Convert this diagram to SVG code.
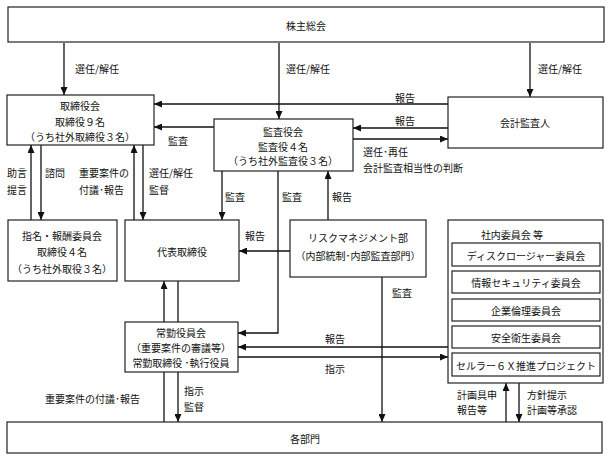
<svg xmlns="http://www.w3.org/2000/svg" width="612" height="459" viewBox="0 0 612 459">
<defs>
<marker id="ah" markerWidth="8" markerHeight="7" refX="8" refY="3.5" orient="auto" markerUnits="userSpaceOnUse">
<path d="M0,0 L8,3.5 L0,7 z" fill="#111"/>
</marker>
<style>
.box{fill:#fff;stroke:#222;stroke-width:1.2}
.ln{fill:none;stroke:#111;stroke-width:1.3}
.ar{fill:none;stroke:#111;stroke-width:1.3;marker-end:url(#ah)}
text{font-family:"Noto Sans CJK JP","Noto Sans CJK SC",sans-serif;font-size:10px;fill:#111;dominant-baseline:central}
.c{text-anchor:middle}
</style>
</defs>
<rect width="612" height="459" fill="#fff"/>

<g id="connectors">
<line class="ar" x1="64" y1="43" x2="64" y2="95"/>
<line class="ar" x1="279" y1="43" x2="279" y2="119"/>
<line class="ar" x1="530" y1="43" x2="530" y2="97"/>
<line class="ar" x1="448" y1="104" x2="154" y2="104"/>
<line class="ar" x1="448" y1="128" x2="353" y2="128"/>
<line class="ar" x1="353" y1="139" x2="448" y2="139"/>
<line class="ar" x1="214" y1="127" x2="154" y2="127"/>
<line class="ar" x1="31" y1="220" x2="31" y2="145"/>
<line class="ar" x1="41" y1="145" x2="41" y2="220"/>
<line class="ar" x1="134" y1="220" x2="134" y2="145"/>
<line class="ar" x1="143" y1="145" x2="143" y2="220"/>
<line class="ar" x1="222" y1="171" x2="222" y2="220"/>
<polyline class="ar" points="278,171 278,333 238,333"/>
<line class="ar" x1="328" y1="220" x2="328" y2="171"/>
<line class="ar" x1="290" y1="251" x2="239" y2="251"/>
<line class="ar" x1="382" y1="277" x2="382" y2="422"/>
<line class="ar" x1="164" y1="322" x2="164" y2="281"/>
<line class="ln" x1="178" y1="281" x2="178" y2="322"/>
<line class="ln" x1="164" y1="372" x2="164" y2="422"/>
<line class="ar" x1="178" y1="372" x2="178" y2="422"/>
<line class="ar" x1="448" y1="347" x2="238" y2="347"/>
<line class="ar" x1="238" y1="357" x2="448" y2="357"/>
<line class="ar" x1="506" y1="422" x2="506" y2="383"/>
<line class="ar" x1="519" y1="383" x2="519" y2="422"/>
</g>

<g id="labels">
<text x="75" y="68">選任/解任</text>
<text x="286" y="68">選任/解任</text>
<text x="538" y="68">選任/解任</text>
<text x="395" y="97">報告</text>
<text x="395" y="120">報告</text>
<text x="168" y="140">監査</text>
<text x="363" y="151">選任･再任</text>
<text x="363" y="167">会計監査相当性の判断</text>
<text x="7" y="172">助言</text>
<text x="7" y="189">提言</text>
<text x="45" y="172">諮問</text>
<text x="79" y="172">重要案件の</text>
<text x="79" y="189">付議･報告</text>
<text x="149" y="172">選任/解任</text>
<text x="149" y="189">監督</text>
<text x="225" y="196">監査</text>
<text x="282" y="196">監査</text>
<text x="332" y="196">報告</text>
<text x="245" y="235">報告</text>
<text x="392" y="292">監査</text>
<text x="325" y="338">報告</text>
<text x="325" y="368">指示</text>
<text x="45" y="398">重要案件の付議･報告</text>
<text x="184" y="390">指示</text>
<text x="184" y="406">監督</text>
<text x="457" y="394">計画具申</text>
<text x="457" y="409">報告等</text>
<text x="527" y="394">方針提示</text>
<text x="527" y="409">計画等承認</text>
</g>

<g id="shareholders">
<rect class="box" x="8" y="7" width="596" height="35"/>
<text class="c" x="306" y="25">株主総会</text>
</g>

<g id="board">
<rect class="box" x="7" y="95" width="147" height="50"/>
<text class="c" x="80" y="105">取締役会</text>
<text class="c" x="80" y="121">取締役９名</text>
<text class="c" x="80" y="136">（うち社外取締役３名）</text>
</g>

<g id="auditors">
<rect class="box" x="214" y="119" width="139" height="52"/>
<text class="c" x="283" y="131">監査役会</text>
<text class="c" x="283" y="146">監査役４名</text>
<text class="c" x="283" y="160">（うち社外監査役３名）</text>
</g>

<g id="accountant">
<rect class="box" x="448" y="97" width="155" height="51"/>
<text class="c" x="525" y="122">会計監査人</text>
</g>

<g id="nomination">
<rect class="box" x="8" y="220" width="109" height="61"/>
<text class="c" x="62" y="235">指名・報酬委員会</text>
<text class="c" x="62" y="251">取締役４名</text>
<text class="c" x="62" y="268">（うち社外取役３名）</text>
</g>

<g id="ceo">
<rect class="box" x="125" y="220" width="114" height="61"/>
<text class="c" x="182" y="251">代表取締役</text>
</g>

<g id="risk">
<rect class="box" x="290" y="220" width="136" height="57"/>
<text class="c" x="358" y="237">リスクマネジメント部</text>
<text class="c" x="358" y="255">（内部統制･内部監査部門）</text>
</g>

<g id="committees">
<rect class="box" x="448" y="220" width="155" height="163"/>
<text class="c" x="512" y="234">社内委員会 等</text>
<rect class="box" x="452" y="243" width="148" height="23"/>
<text class="c" x="526" y="255">ディスクロージャー委員会</text>
<rect class="box" x="452" y="271" width="148" height="22"/>
<text class="c" x="526" y="282">情報セキュリティ委員会</text>
<rect class="box" x="452" y="299" width="148" height="22"/>
<text class="c" x="526" y="310">企業倫理委員会</text>
<rect class="box" x="452" y="326" width="148" height="22"/>
<text class="c" x="526" y="337">安全衛生委員会</text>
<rect class="box" x="452" y="353" width="148" height="23"/>
<text class="c" x="526" y="365">セルラー６Ｘ推進プロジェクト</text>
</g>

<g id="executive">
<rect class="box" x="125" y="322" width="113" height="50"/>
<text class="c" x="181" y="332">常勤役員会</text>
<text class="c" x="181" y="347">（重要案件の審議等）</text>
<text class="c" x="181" y="362">常勤取締役 ･執行役員</text>
</g>

<g id="departments">
<rect class="box" x="7" y="422" width="595" height="31"/>
<text class="c" x="305" y="438">各部門</text>
</g>
</svg>
